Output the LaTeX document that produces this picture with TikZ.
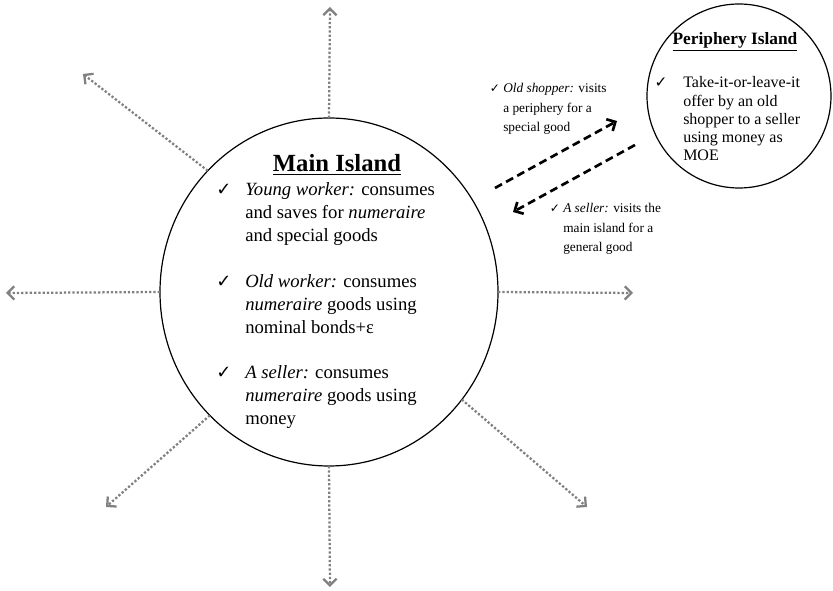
\documentclass[tikz,border=0pt]{standalone}
\usepackage{fontspec}
\setmainfont{Liberation Serif}
\newfontfamily\symfont{DejaVu Sans}
\usetikzlibrary{arrows.meta,shapes.geometric}
\newcommand{\chk}{{\symfont\char"2713}}
\newcommand{\lns}[1]{\begin{tabular}[t]{@{}l@{}}#1\end{tabular}}
\begin{document}
\begin{tikzpicture}[x=0.75pt,y=-0.75pt,
  island/.style={draw=black,line width=0.9pt,inner sep=0pt,outer sep=0pt},
  spoke/.style={draw=black!50,line width=1.7pt,dash pattern=on 1.7pt off 1.5pt,-{Straight Barb[length=5pt,width=10pt,line width=1.7pt]}},
  trip/.style={draw=black,line width=2pt,dash pattern=on 6pt off 3.5pt,-{Straight Barb[length=5pt,width=10pt,line width=2pt]}},
  maintxt/.style={anchor=base west,inner sep=0pt,font=\fontsize{14}{17.1}\selectfont},
  mainchk/.style={anchor=base,inner sep=0pt,font=\fontsize{13.5}{15}\selectfont},
  peritxt/.style={anchor=base west,inner sep=0pt,font=\fontsize{12}{13.6}\selectfont},
  lbltxt/.style={anchor=base west,inner sep=0pt,font=\fontsize{10}{14.6}\selectfont},
  lblchk/.style={anchor=base,inner sep=0pt,font=\fontsize{9}{10}\selectfont}]
\useasboundingbox (0,0) rectangle (833,591);

% islands
\node[island,ellipse,minimum width=253.5pt,minimum height=261pt] (main) at (329,292) {};
\node[island,circle,minimum size=138pt] (peri) at (739,96) {};

% spoke end points
\coordinate (tN) at (330,7);
\coordinate (tS) at (330,587);
\coordinate (tW) at (6,293);
\coordinate (tE) at (633,293);
\coordinate (tNW) at (83,74);
\coordinate (tSW) at (106,507);
\coordinate (tSE) at (587,507);

\draw[spoke] (main.north) -- (tN);
\draw[spoke] (main.south) -- (tS);
\draw[spoke] (main.west) -- (tW);
\draw[spoke] (main.east) -- (tE);
\draw[spoke] (main.135) -- (tNW);
\draw[spoke] (main.226) -- (tSW);
\draw[spoke] (main.-39) -- (tSE);

% trips between islands
\coordinate (a1s) at (495,188);
\coordinate (a1e) at (617,121);
\coordinate (a2s) at (635,145);
\coordinate (a2e) at (513,212);
\draw[trip] (a1s) -- (a1e);
\draw[trip] (a2s) -- (a2e);

% main island text
\node[anchor=base,inner sep=0pt,font=\fontsize{18.5}{20}\selectfont\bfseries] (mtitle) at (337,172) {\underline{Main Island}};
\node[mainchk] (c1) at (224,196) {\chk};
\node[maintxt] (m1) at (245,196) {\lns{\textit{Young worker:} consumes\\and saves for \textit{numeraire}\\and special goods}};
\node[mainchk] (c2) at (224,288) {\chk};
\node[maintxt] (m2) at (245,288) {\lns{\textit{Old worker:} consumes\\\textit{numeraire} goods using\\nominal bonds+ε}};
\node[mainchk] (c3) at (224,379) {\chk};
\node[maintxt] (m3) at (245,379) {\lns{\textit{A seller:} consumes\\\textit{numeraire} goods using\\money}};

% periphery island text
\node[anchor=base,inner sep=0pt,font=\fontsize{13}{15}\selectfont\bfseries] (ptitle) at (735,45) {\underline{Periphery Island}};
\node[mainchk,font=\fontsize{11.5}{13}\selectfont] (pc) at (661,88) {\chk};
\node[peritxt] (p1) at (683,88) {\lns{Take-it-or-leave-it\\offer by an old\\shopper to a seller\\using money as\\MOE}};

% trip labels
\node[lblchk] (lc1) at (495,93) {\chk};
\node[lbltxt] (l1) at (503,93) {\lns{\textit{Old shopper:} visits\\a periphery for a\\special good}};
\node[lblchk] (lc2) at (555,213) {\chk};
\node[lbltxt] (l2) at (563,213) {\lns{\textit{A seller:} visits the\\main island for a\\general good}};
\end{tikzpicture}
\end{document}
